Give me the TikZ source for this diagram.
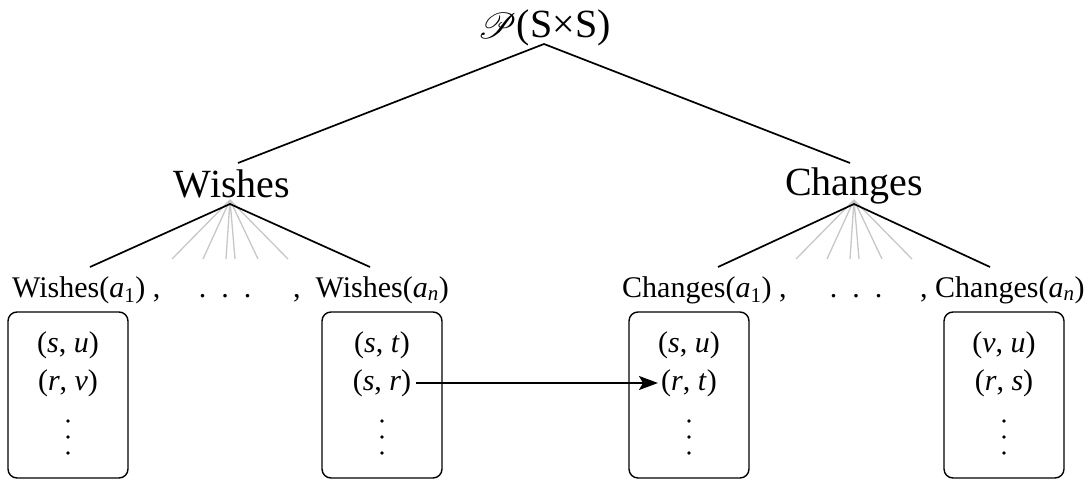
\documentclass[tikz,border=0pt]{standalone}
\usepackage{fontspec}
\usepackage{mathrsfs}
\usepackage{graphicx}
\setmainfont{Liberation Serif}
\usetikzlibrary{arrows.meta}
\tikzset{
  big/.style={font=\fontsize{40}{46}\selectfont, inner sep=0pt},
  lab/.style={font=\fontsize{30}{36}\selectfont, inner sep=0pt},
  item/.style={font=\fontsize{30}{36}\selectfont, inner sep=0pt},
  box/.style={draw, line width=1.4pt, rounded corners=9pt, minimum width=120pt, minimum height=166pt, inner sep=0pt},
  edge/.style={line width=1.7pt},
  greyedge/.style={line width=1.3pt, draw=black!22},
  dot/.style={circle, fill, inner sep=0pt, minimum size=3.8pt},
}
\begin{document}
\begin{tikzpicture}[x=1pt,y=-1pt]
\useasboundingbox (0,0) rectangle (1091,481);
% top
\node[big, anchor=base] (P) at (544,38) {\raisebox{-1pt}{\scalebox{1.45}{$\mathscr{P}$}}(S×S)};
\node[big, anchor=base] (W) at (232,197) {Wishes};
\node[big, anchor=base] (C) at (854,196) {Changes};
\coordinate (Ptip) at (544,44);
\coordinate (Wtop) at (238,163);
\coordinate (Ctop) at (850,163);
\draw[edge] (Wtop) -- (Ptip) -- (Ctop);
% fans
\coordinate (Wa) at (230,204);
\coordinate (Ca) at (854,204);
\foreach \d in {-58,-27,-4,5,28,58}{
  \draw[greyedge] ([yshift=4pt]Wa) -- ++(\d,59);
  \draw[greyedge] ([yshift=4pt]Ca) -- ++(\d,59);
}
\coordinate (Wl) at (90,267);
\coordinate (Wr) at (370,267);
\coordinate (Cl) at (718,267);
\coordinate (Cr) at (990,267);
\draw[edge] (Wl) -- (Wa) -- (Wr);
\draw[edge] (Cl) -- (Ca) -- (Cr);
% labels
\node[lab, anchor=base west] (W1) at (12,297) {Wishes(\textit{a}\textsubscript{1}) ,};
\node[lab, anchor=base] (Wdots) at (225,297) {.\hspace{15pt}.\hspace{15pt}.};
\node[lab, anchor=base west] (Wn) at (293,297) {,\ \ Wishes(\textit{a}\textsubscript{\textit{n}})};
\node[lab, anchor=base west] (C1) at (622,297) {Changes(\textit{a}\textsubscript{1}) ,};
\node[lab, anchor=base] (Cdots) at (856,297) {.\hspace{15pt}.\hspace{15pt}.};
\node[lab, anchor=base west] (Cn) at (920,297) {, Changes(\textit{a}\textsubscript{\textit{n}})};
% boxes
\node[box] (B1) at (68,395) {};
\node[box] (B2) at (382,395) {};
\node[box] (B3) at (689,395) {};
\node[box] (B4) at (1004,395) {};
\node[item] (b1a) at (68,345) {(\textit{s}, \textit{u})};
\node[item] (b1b) at (68,383) {(\textit{r}, \textit{v})};
\node[item] (b2a) at (382,345) {(\textit{s}, \textit{t})};
\node[item] (b2b) at (382,383) {(\textit{s}, \textit{r})};
\node[item] (b3a) at (689,345) {(\textit{s}, \textit{u})};
\node[item] (b3b) at (689,383) {(\textit{r}, \textit{t})};
\node[item] (b4a) at (1004,345) {(\textit{v}, \textit{u})};
\node[item] (b4b) at (1004,383) {(\textit{r}, \textit{s})};
\foreach \x in {68,382,689,1004}{
  \foreach \y in {421,437,453}{
    \node[dot] at (\x,\y) {};
  }
}
\draw[edge, -{Stealth[length=19pt,width=14pt,inset=4pt]}] ([xshift=5pt]b2b.east) -- ([xshift=-3pt]b3b.west);
\end{tikzpicture}
\end{document}
